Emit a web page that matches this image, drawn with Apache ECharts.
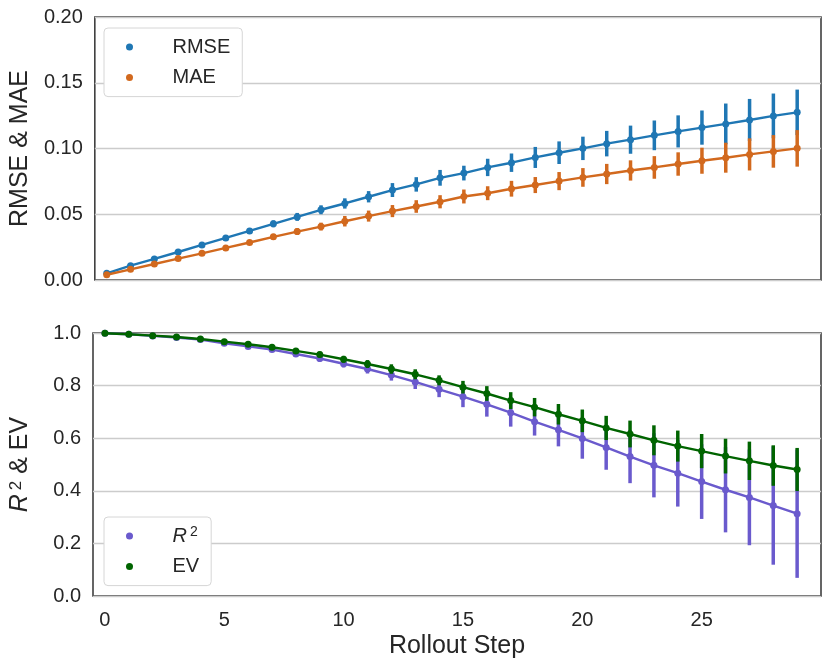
<!DOCTYPE html>
<html>
<head>
<meta charset="utf-8">
<script src="https://cdn.jsdelivr.net/npm/echarts@6/dist/echarts.min.js"></script>
<style>
  html, body { margin: 0; padding: 0; background: #fff; }
  #chart { width: 831px; height: 668px; }
</style>
</head>
<body>
<div id="chart"></div>
<script>
// rollout steps
const steps = [0, 1, 2, 3, 4, 5, 6, 7, 8, 9, 10, 11, 12, 13, 14, 15, 16, 17, 18, 19, 20, 21, 22, 23, 24, 25, 26, 27, 28, 29]
const xTicks = [0, 5, 10, 15, 20, 25]

// top panel: mean and half width of the error bar
const rmse = [0.0051, 0.0109, 0.016, 0.0213, 0.0267, 0.032, 0.0373, 0.0427, 0.048, 0.0534, 0.0582, 0.0633, 0.0684, 0.0727, 0.0777, 0.0813, 0.0856, 0.0892, 0.0932, 0.0968, 0.1001, 0.1037, 0.1067, 0.110, 0.113, 0.1159, 0.1187, 0.1217, 0.1248, 0.1275]
const rmseErr = [0.0005, 0.0008, 0.001, 0.0013, 0.0016, 0.0019, 0.0022, 0.0026, 0.003, 0.0034, 0.0039, 0.0043, 0.0053, 0.0055, 0.006, 0.0056, 0.0066, 0.007, 0.008, 0.0086, 0.0089, 0.0097, 0.0107, 0.0113, 0.0122, 0.013, 0.0155, 0.016, 0.017, 0.0173]
const mae = [0.004, 0.0081, 0.0122, 0.0163, 0.0203, 0.0244, 0.0285, 0.0328, 0.0368, 0.0406, 0.0447, 0.0486, 0.0524, 0.0559, 0.0595, 0.0635, 0.066, 0.0694, 0.0722, 0.0752, 0.078, 0.0806, 0.0833, 0.0856, 0.0882, 0.0907, 0.093, 0.0955, 0.0978, 0.1001]
const maeErr = [0.0004, 0.0006, 0.0008, 0.001, 0.0013, 0.0016, 0.0019, 0.0022, 0.0026, 0.003, 0.004, 0.0042, 0.0046, 0.0048, 0.005, 0.0053, 0.0053, 0.006, 0.0061, 0.0069, 0.0071, 0.0077, 0.0077, 0.0086, 0.0089, 0.0099, 0.0114, 0.0122, 0.0124, 0.0139]

// bottom panel
const r2 = [0.999, 0.995, 0.989, 0.983, 0.975, 0.961, 0.949, 0.937, 0.92, 0.903, 0.883, 0.863, 0.840, 0.814, 0.786, 0.758, 0.729, 0.697, 0.663, 0.632, 0.599, 0.565, 0.530, 0.497, 0.467, 0.435, 0.404, 0.375, 0.344, 0.313]
const r2Err = [0.001, 0.002, 0.003, 0.004, 0.005, 0.006, 0.007, 0.008, 0.01, 0.012, 0.014, 0.017, 0.021, 0.027, 0.03, 0.04, 0.047, 0.053, 0.053, 0.063, 0.077, 0.085, 0.101, 0.122, 0.127, 0.142, 0.162, 0.182, 0.225, 0.244]
const ev = [0.999, 0.995, 0.990, 0.985, 0.977, 0.967, 0.957, 0.946, 0.932, 0.918, 0.900, 0.882, 0.863, 0.843, 0.820, 0.794, 0.770, 0.743, 0.718, 0.691, 0.666, 0.639, 0.616, 0.592, 0.570, 0.551, 0.532, 0.514, 0.496, 0.481]
const evErr = [0.001, 0.002, 0.003, 0.004, 0.005, 0.006, 0.007, 0.008, 0.009, 0.011, 0.013, 0.015, 0.018, 0.019, 0.019, 0.024, 0.028, 0.032, 0.035, 0.039, 0.043, 0.046, 0.051, 0.057, 0.059, 0.065, 0.066, 0.073, 0.077, 0.082]

const FONT = "'Liberation Sans', Arial, sans-serif"
const TEXT = '#262626'
const colors = {
  rmse: '#1f77b4',
  mae: '#d2691e',
  r2: '#6a5acd',
  ev: '#006400'
}

// 误差线
const errBars = function (name, vals, errs, color, idx, z) {
  return {
    name: name,
    type: 'custom',
    xAxisIndex: idx,
    yAxisIndex: idx,
    z: z,
    silent: true,
    itemStyle: { color: color },
    data: steps.map((s, i) => [s, vals[i], errs[i]]),
    encode: { x: 0, y: 1 },
    renderItem: function (params, api) {
      let x = api.value(0)
      let v = api.value(1)
      let e = api.value(2)
      let p1 = api.coord([x, v - e])
      let p2 = api.coord([x, v + e])
      return {
        type: 'line',
        shape: { x1: p1[0], y1: p1[1], x2: p2[0], y2: p2[1] },
        style: { stroke: color, lineWidth: 3.5, lineCap: 'butt' }
      }
    }
  }
}

// 折线 + 圆点
const meanLine = function (name, vals, color, idx, z) {
  return {
    name: name,
    type: 'line',
    xAxisIndex: idx,
    yAxisIndex: idx,
    z: z,
    data: steps.map((s, i) => [s, vals[i]]),
    symbol: 'circle',
    symbolSize: 7,
    itemStyle: { color: color },
    lineStyle: { color: color, width: 2.4 },
    emphasis: { disabled: true }
  }
}

const legendBox = function (top, names, formatter) {
  return {
    orient: 'vertical',
    left: 104,
    top: top,
    data: names,
    selectedMode: false,
    icon: 'circle',
    itemWidth: 14,
    itemHeight: 7,
    itemGap: 8.6,
    padding: [8, 12, 8, 22],
    backgroundColor: '#fff',
    borderColor: '#d6d6d6',
    borderWidth: 1,
    borderRadius: 4,
    formatter: formatter,
    textStyle: {
      fontFamily: FONT,
      fontSize: 20,
      lineHeight: 22,
      color: TEXT,
      padding: [0, 0, 0, 31],
      rich: {
        i: { fontFamily: FONT, fontSize: 20, fontStyle: 'italic', color: TEXT, lineHeight: 22 },
        s: { fontFamily: FONT, fontSize: 14, color: TEXT, verticalAlign: 'top', lineHeight: 12, padding: [0, 0, 6, 3] }
      }
    }
  }
}

const xAxisBase = function (idx, showLabels) {
  return {
    type: 'value',
    gridIndex: idx,
    min: -0.5,
    max: 30,
    axisLine: { show: false },
    axisTick: { show: false },
    splitLine: { show: false },
    axisLabel: {
      show: showLabels,
      customValues: xTicks,
      fontFamily: FONT,
      fontSize: 20,
      color: TEXT,
      margin: 14
    }
  }
}

const yAxisBase = function (idx, max, interval, digits, name) {
  return {
    type: 'value',
    gridIndex: idx,
    min: 0,
    max: max,
    interval: interval,
    name: name,
    nameLocation: 'middle',
    nameRotate: 90,
    nameGap: 60,
    nameTextStyle: {
      fontFamily: FONT,
      fontSize: 25,
      color: TEXT,
      rich: {
        i: { fontFamily: FONT, fontSize: 25, fontStyle: 'italic', color: TEXT },
        s: { fontFamily: FONT, fontSize: 17, color: TEXT, verticalAlign: 'top', padding: [0, 0, 8, 4] }
      }
    },
    axisLine: { show: false },
    axisTick: { show: false },
    splitLine: { lineStyle: { color: '#cccccc', width: 1.3 } },
    axisLabel: {
      fontFamily: FONT,
      fontSize: 20,
      color: TEXT,
      margin: 12,
      formatter: v => v.toFixed(digits)
    }
  }
}

const myChart = echarts.init(document.getElementById('chart'))
const option = {
  animation: false,
  backgroundColor: '#fff',
  grid: [
    { left: 90, right: 10, top: 17, height: 263, show: true, borderColor: '#333', borderWidth: 1.5, backgroundColor: 'transparent' },
    { left: 90, right: 10, top: 333, height: 263, show: true, borderColor: '#333', borderWidth: 1.5, backgroundColor: 'transparent' }
  ],
  legend: [
    legendBox(28, ['RMSE', 'MAE']),
    legendBox(517, ['R2', 'EV'], n => (n === 'R2' ? '{i|R}{s|2}' : n))
  ],
  xAxis: [
    xAxisBase(0, false),
    Object.assign(xAxisBase(1, true), {
      name: 'Rollout Step',
      nameLocation: 'middle',
      nameGap: 38,
      nameTextStyle: { fontFamily: FONT, fontSize: 25, color: TEXT }
    })
  ],
  yAxis: [
    yAxisBase(0, 0.2, 0.05, 2, 'RMSE & MAE'),
    yAxisBase(1, 1.0, 0.2, 1, '{i|R}{s|2} & EV')
  ],
  series: [
    errBars('RMSE', rmse, rmseErr, colors.rmse, 0, 2),
    meanLine('RMSE', rmse, colors.rmse, 0, 3),
    errBars('MAE', mae, maeErr, colors.mae, 0, 4),
    meanLine('MAE', mae, colors.mae, 0, 5),
    errBars('R2', r2, r2Err, colors.r2, 1, 2),
    meanLine('R2', r2, colors.r2, 1, 3),
    errBars('EV', ev, evErr, colors.ev, 1, 4),
    meanLine('EV', ev, colors.ev, 1, 5)
  ]
}
myChart.setOption(option)
</script>
</body>
</html>
